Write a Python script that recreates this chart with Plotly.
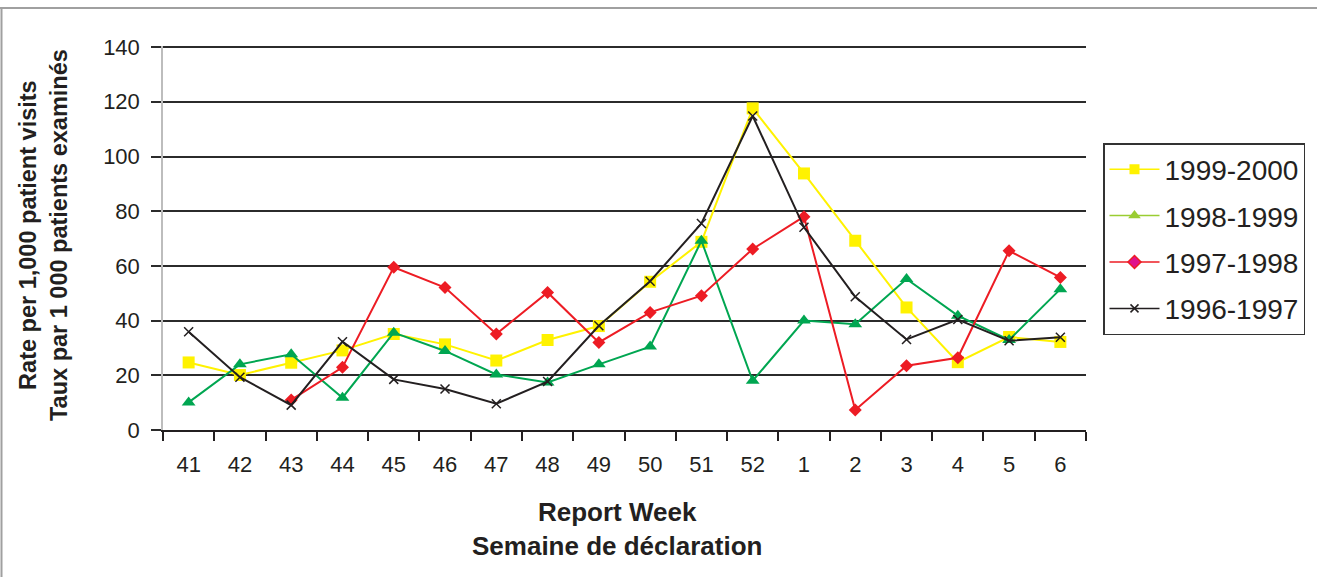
import plotly.graph_objects as go

weeks = ["41", "42", "43", "44", "45", "46", "47", "48", "49", "50", "51", "52",
         "1", "2", "3", "4", "5", "6"]
s_1999_2000 = [24.7, 20.1, 24.6, 29.1, 35.1, 31.3, 25.4, 32.9, 38.0, 54.2, 68.8, 117.6,
               93.8, 69.2, 44.8, 24.8, 34.0, 32.2]
s_1998_1999 = [10.1, 24.0, 27.7, 11.8, 35.6, 28.9, 20.3, 17.4, 24.0, 30.5, 69.2, 18.0,
               40.0, 38.7, 55.2, 41.8, 32.9, 51.5]
s_1997_1998 = [None, None, 11.0, 22.9, 59.5, 52.1, 35.1, 50.3, 32.0, 43.0, 49.1, 66.2,
               78.0, 7.3, 23.5, 26.4, 65.5, 55.8]
s_1996_1997 = [35.9, 19.3, 9.1, 32.3, 18.5, 15.0, 9.6, 17.7, 38.1, 54.4, 75.5, 114.8,
               74.1, 48.7, 33.1, 40.4, 32.6, 33.9]
y_ticks = [0, 20, 40, 60, 80, 100, 120, 140]

W, H = 1317, 577
L, R, T, B = 163, 231, 46, 147
PW, PH = W - L - R, H - T - B
Y_TOP = 140.4  # tiny headroom so the 140 gridline is drawn

def px_x(p):
    return (p - L) / PW

def px_y(p):
    return (H - B - p) / PH

FONT = "Liberation Sans, Arial, sans-serif"
TXT = "#231f20"
YEL, GRN, RED, BLK = "#fff200", "#00a651", "#ed1c24", "#231f20"

fig = go.Figure()

series = [
    ("1999-2000", s_1999_2000, YEL, "square", 12, YEL, 0),
    ("1998-1999", s_1998_1999, GRN, "triangle-up", 12, GRN, 0),
    ("1997-1998", s_1997_1998, RED, "diamond", 10, RED, 0),
    ("1996-1997", s_1996_1997, BLK, "x-thin", 9, BLK, 1.5),
]
for name, vals, col, sym, sz, mcol, mlw in series:
    fig.add_trace(go.Scatter(
        x=weeks, y=vals, mode="lines+markers", name=name, showlegend=False,
        line=dict(color=col, width=2),
        marker=dict(symbol=sym, size=sz, color=mcol,
                    line=dict(color=mcol, width=mlw)),
        connectgaps=False,
    ))

# legend-only entries (legend styling as in the original)
leg = [
    ("1999-2000", "#fff200", "square", 10, "#fff200", "#fff200", 0),
    ("1998-1999", "#9acd32", "triangle-up", 11, "#9acd32", "#9acd32", 0),
    ("1997-1998", "#ed1c24", "diamond", 10, "#e0118c", "#ed1c24", 1.5),
    ("1996-1997", "#231f20", "x-thin", 8, "#231f20", "#231f20", 1.5),
]
for i, (name, col, sym, sz, fill, mline, mlw) in enumerate(leg):
    fig.add_trace(go.Scatter(
        x=[None], y=[None], mode="lines+markers", name=name, legendgroup=f"g{i}",
        line=dict(color=col, width=1.5),
        marker=dict(symbol=sym, size=sz, color=fill, line=dict(color=mline, width=mlw)),
    ))

fig.update_layout(
    width=W, height=H, autosize=False,
    margin=dict(l=L, r=R, t=T, b=B, pad=0),
    paper_bgcolor="white", plot_bgcolor="white",
    font=dict(family=FONT, color=TXT),
    showlegend=True,
    legend=dict(
        x=px_x(1103), y=px_y(143), xanchor="left", yanchor="top",
        bgcolor="white", bordercolor="#333333", borderwidth=1.5,
        font=dict(size=28, family=FONT, color=TXT),
        itemwidth=50, tracegroupgap=7, traceorder="grouped",
    ),
    xaxis=dict(
        type="category", categoryorder="array", categoryarray=weeks,
        range=[-0.5, len(weeks) - 0.5], autorange=False,
        showgrid=False, zeroline=False,
        showline=True, linecolor="#231f20", linewidth=1.5,
        ticks="outside", tickson="boundaries", ticklen=9, tickwidth=1.5,
        tickcolor="#231f20", ticklabelstandoff=14,
        tickfont=dict(size=22, family=FONT, color=TXT),
    ),
    yaxis=dict(
        range=[0, Y_TOP], autorange=False,
        tickvals=y_ticks, ticktext=[str(v) for v in y_ticks],
        showgrid=True, gridcolor="#2b2b2b", gridwidth=1.5, zeroline=False,
        showline=True, linecolor="#bdbdbd", linewidth=1.5,
        ticks="outside", ticklen=10, tickwidth=1.5, tickcolor="#2b2b2b",
        ticklabelstandoff=7,
        tickfont=dict(size=22, family=FONT, color=TXT),
    ),
    annotations=[
        dict(text="<b>Rate per 1,000 patient visits<br>Taux par 1 000 patients examinés</b>",
             xref="paper", yref="paper", x=px_x(43), y=px_y(235),
             xanchor="center", yanchor="middle", textangle=-90, showarrow=False,
             font=dict(size=23.5, family=FONT, color=TXT)),
        dict(text="<b>Report Week<br>Semaine de déclaration</b>",
             xref="paper", yref="paper", x=px_x(617), y=px_y(529),
             xanchor="center", yanchor="middle", showarrow=False,
             font=dict(size=26, family=FONT, color=TXT)),
    ],
    shapes=[
        dict(type="line", xref="paper", yref="paper",
             x0=px_x(0), x1=px_x(W), y0=px_y(8), y1=px_y(8),
             line=dict(color="#a0a0a0", width=2)),
        dict(type="line", xref="paper", yref="paper",
             x0=px_x(1.5), x1=px_x(1.5), y0=px_y(8), y1=px_y(H),
             line=dict(color="#a0a0a0", width=2)),
    ],
)

fig.write_html(
    "out.html",
    config={"displayModeBar": False},
    post_script="document.body.style.margin='0';document.body.style.overflow='hidden';",
)
